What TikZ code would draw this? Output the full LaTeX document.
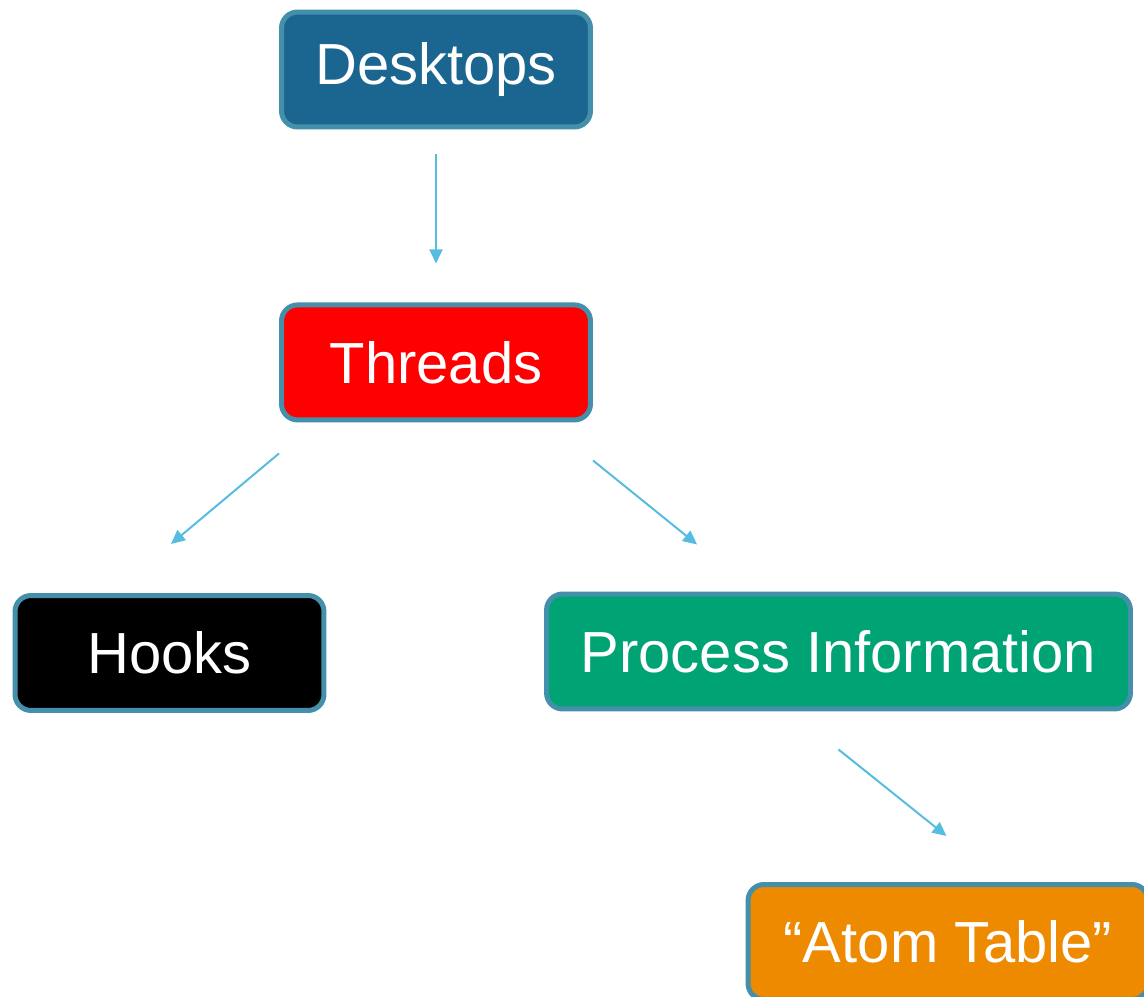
\documentclass[tikz,border=0pt]{standalone}
\usepackage{fontspec}
\setmainfont{Liberation Sans}
\usetikzlibrary{arrows.meta, positioning, calc}

\definecolor{deskblue}{RGB}{27,102,144}
\definecolor{rimblue}{RGB}{68,143,170}
\definecolor{procgreen}{RGB}{0,163,116}
\definecolor{atomorange}{RGB}{238,138,0}
\definecolor{arrowblue}{RGB}{86,189,224}

\begin{document}
\begin{tikzpicture}[
    x=0.02cm, y=-0.02cm,
    node distance=3.46cm,
    every node/.style={font=\fontsize{33}{40}\selectfont},
    box/.style={draw=rimblue, line width=0.1cm, rounded corners=0.32cm,
                minimum width=6.18cm, minimum height=2.3cm, align=center,
                text=white},
    arrow/.style={-{Triangle[length=0.28cm, width=0.26cm]}, line width=0.04cm, draw=arrowblue}
]
\useasboundingbox (0,0) rectangle (1144,997);

\node[box, fill=deskblue] (desktops) at (436,69.5) {Desktops};
\node[box, fill=red, below=of desktops] (threads) {Threads};
\node[box, fill=black] (hooks) at (169.5,653) {Hooks};
\node[box, fill=procgreen, minimum width=11.68cm] (procinfo) at (838.5,651.5)
    {Process Information};
\node[box, fill=atomorange, minimum width=8cm] (atom) at (948,942)
    {“Atom Table”};

\draw[arrow] ($(desktops.south)+(0,25)$) -- ($(threads.north)+(0,-39)$);
\draw[arrow] ($(threads.south west)+(0,31)$) -- ($(hooks.north)+(1.5,-49)$);
\draw[arrow] ($(threads.south east)+(0,38)$) -- ($(procinfo.north west)+(153,-47)$);
\draw[arrow] ($(procinfo.south)+(0,38)$) -- ($(atom.north)+(-1.5,-46)$);
\end{tikzpicture}
\end{document}
